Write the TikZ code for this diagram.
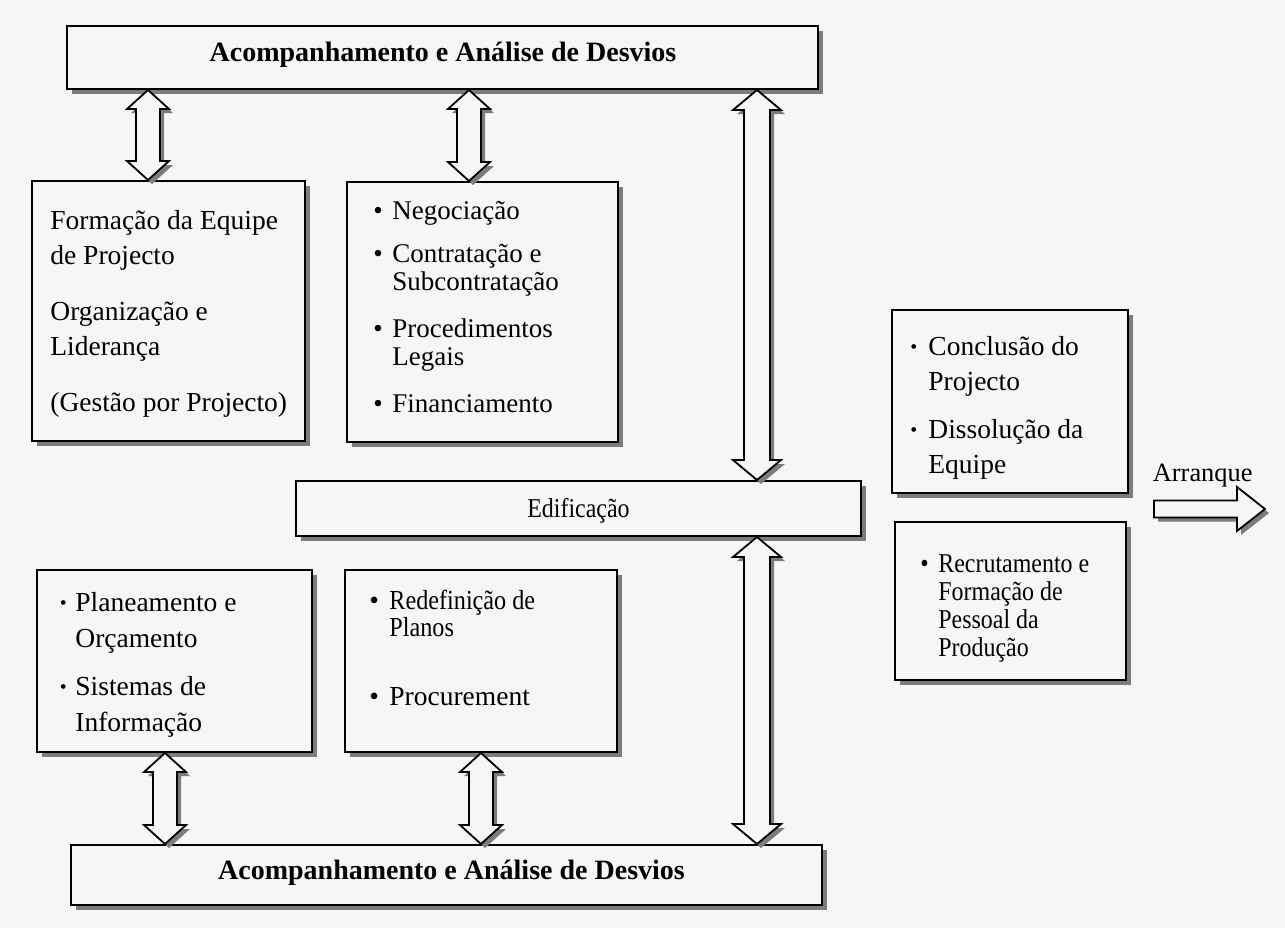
\documentclass[tikz,border=0pt]{standalone}
\usepackage{fontspec}
\setmainfont{Liberation Serif}
\newfontfamily\narrowserif[FakeStretch=0.88]{Liberation Serif}
\usepackage{graphicx}
\usetikzlibrary{calc,shadows}

\definecolor{paper}{HTML}{F6F6F6}
\definecolor{shade}{HTML}{7C7C7C}

% bullet set in a fixed-width slot (large and small variants)
\newcommand\bl[1]{\makebox[#1][l]{\textbullet}}
\newcommand\sbl[1]{\makebox[#1][l]{\raisebox{0.15ex}{\scalebox{0.72}{\textbullet}}}}

% outline of a vertical hollow double arrow between two tips
% #1 upper tip, #2 lower tip, #3 half shaft, #4 half head, #5 head length, #6 offset
\newcommand\dblarrowpath[6]{%
  ($(#1)+(#6,#6)$) -- ($(#1)+(#4+#6,#5+#6)$) -- ($(#1)+(#3+#6,#5+#6)$) --
  ($(#2)+(#3+#6,-#5+#6)$) -- ($(#2)+(#4+#6,-#5+#6)$) -- ($(#2)+(#6,#6)$) --
  ($(#2)+(-#4+#6,-#5+#6)$) -- ($(#2)+(-#3+#6,-#5+#6)$) --
  ($(#1)+(-#3+#6,#5+#6)$) -- ($(#1)+(-#4+#6,#5+#6)$) -- cycle}

% outline of a horizontal hollow arrow pointing right
% #1 tail, #2 tip, #3 half shaft, #4 half head, #5 head length, #6 offset
\newcommand\rarrowpath[6]{%
  ($(#1)+(#6,-#3+#6)$) -- ($(#2)+(-#5+#6,-#3+#6)$) -- ($(#2)+(-#5+#6,-#4+#6)$) --
  ($(#2)+(#6,#6)$) -- ($(#2)+(-#5+#6,#4+#6)$) -- ($(#2)+(-#5+#6,#3+#6)$) --
  ($(#1)+(#6,#3+#6)$) -- cycle}

\tikzset{
  panel/.style={draw, line width=1pt, fill=paper, inner sep=0pt,
    drop shadow={shadow xshift=2.5pt, shadow yshift=-2.5pt, fill=shade, opacity=1}},
  sz/.style 2 args={minimum width=#1*0.5pt, minimum height=#2*0.5pt},
  txt/.style={inner sep=0pt, anchor=base west},
  lbl/.style={inner sep=0pt, anchor=base},
  arrowline/.style={draw, line width=0.9pt, fill=paper, line join=miter},
  arrowshade/.style={fill=shade},
}

\begin{document}
\begin{tikzpicture}[x=0.5pt, y=-0.5pt]
\useasboundingbox (0,0) rectangle (1285,928);
\fill[paper] (0,0) rectangle (1285,928);

% boxes
\node[panel, sz={751}{63}]  (top) at (442.5,57.5) {};
\node[panel, sz={273}{260}] (frm) at (168.5,311) {};
\node[panel, sz={271}{260}] (neg) at (482.5,312) {};
\node[panel, sz={565}{55}]  (edf) at (578.5,508.5) {};
\node[panel, sz={275}{182}] (pln) at (174.5,661) {};
\node[panel, sz={272}{182}] (red) at (481,661) {};
\node[panel, sz={751}{60}]  (bot) at (446.5,875) {};
\node[panel, sz={236}{183}] (con) at (1010,401.5) {};
\node[panel, sz={231}{158}] (rec) at (1010.5,601) {};

% arrow columns
\coordinate (xa) at (148,0);
\coordinate (xb) at (469,0);
\coordinate (xc) at (757,0);
\coordinate (xd) at (165,0);
\coordinate (xe) at (481,0);

\coordinate (a1t) at (top.south -| xa); \coordinate (a1b) at (frm.north -| xa);
\coordinate (a2t) at (top.south -| xb); \coordinate (a2b) at (neg.north -| xb);
\coordinate (a3t) at (top.south -| xc); \coordinate (a3b) at (edf.north -| xc);
\coordinate (a4t) at (edf.south -| xc); \coordinate (a4b) at (bot.north -| xc);
\coordinate (a5t) at (pln.south -| xd); \coordinate (a5b) at (bot.north -| xd);
\coordinate (a6t) at (red.south -| xe); \coordinate (a6b) at (bot.north -| xe);

\foreach \u/\v in {a1t/a1b, a2t/a2b, a5t/a5b, a6t/a6b} {
  \fill[arrowshade] \dblarrowpath{\u}{\v}{12}{21}{19}{4};
  \path[arrowline] \dblarrowpath{\u}{\v}{12}{21}{19}{0};
}
\foreach \u/\v in {a3t/a3b, a4t/a4b} {
  \fill[arrowshade] \dblarrowpath{\u}{\v}{13}{24}{20}{4};
  \path[arrowline] \dblarrowpath{\u}{\v}{13}{24}{20}{0};
}

% start-up arrow
\coordinate (arrTail) at (1154,509);
\coordinate (arrTip) at (1265,509);
\fill[arrowshade] \rarrowpath{arrTail}{arrTip}{8.5}{22}{28}{4};
\path[arrowline] \rarrowpath{arrTail}{arrTip}{8.5}{22}{28}{0};

% texts
\node[lbl] (topT) at (443,61) {\fontsize{14}{17}\selectfont\bfseries Acompanhamento e Análise de Desvios};
\node[lbl] (botT) at (451.5,879) {\fontsize{14}{17}\selectfont\bfseries Acompanhamento e Análise de Desvios};
\node[lbl] (edfT) at (578.5,517) {\narrowserif\fontsize{13.6}{16}\selectfont Edificação};
\node[lbl] (arrT) at (1202.7,481.7) {\fontsize{13.2}{16}\selectfont Arranque};

\node[txt] (frmT) at (50,229) {\fontsize{13.75}{17.75}\selectfont
  \begin{tabular}[t]{@{}l@{}}
  Formação da Equipe\\
  de Projecto\\[10pt]
  Organização e\\
  Liderança\\[10pt]
  (Gestão por Projecto)
  \end{tabular}};

\node[txt] (negT) at (373,219.2) {\fontsize{13.5}{14.1}\selectfont
  \begin{tabular}[t]{@{}l@{}l@{}}
  \bl{9.5pt} & Negociação\\[7.3pt]
  \bl{9.5pt} & Contratação e\\
             & Subcontratação\\[9.5pt]
  \bl{9.5pt} & Procedimentos\\
             & Legais\\[9.5pt]
  \bl{9.5pt} & Financiamento
  \end{tabular}};

\node[txt] (plnT) at (59.5,611.7) {\fontsize{13.75}{17.9}\selectfont
  \begin{tabular}[t]{@{}l@{}l@{}}
  \sbl{7.75pt} & Planeamento e\\
               & Orçamento\\[6pt]
  \sbl{7.75pt} & Sistemas de\\
               & Informação
  \end{tabular}};

\node[txt] (redT) at (369,609.6) {\fontsize{13.75}{12.7}\selectfont
  \begin{tabular}[t]{@{}l@{}l@{}}
  \bl{10pt} & \narrowserif Redefinição de\\
            & \narrowserif Planos\\[21.8pt]
  \bl{10pt} & Procurement
  \end{tabular}};

\node[txt] (conT) at (910,355) {\fontsize{13.75}{17.5}\selectfont
  \begin{tabular}[t]{@{}l@{}l@{}}
  \sbl{9pt} & Conclusão do\\
            & Projecto\\[6.5pt]
  \sbl{9pt} & Dissolução da\\
            & Equipe
  \end{tabular}};

\node[txt] (recT) at (920,572) {\narrowserif\fontsize{13.6}{14}\selectfont
  \begin{tabular}[t]{@{}l@{}l@{}}
  \bl{9pt} & Recrutamento e\\
           & Formação de\\
           & Pessoal da\\
           & Produção
  \end{tabular}};
\end{tikzpicture}
\end{document}
